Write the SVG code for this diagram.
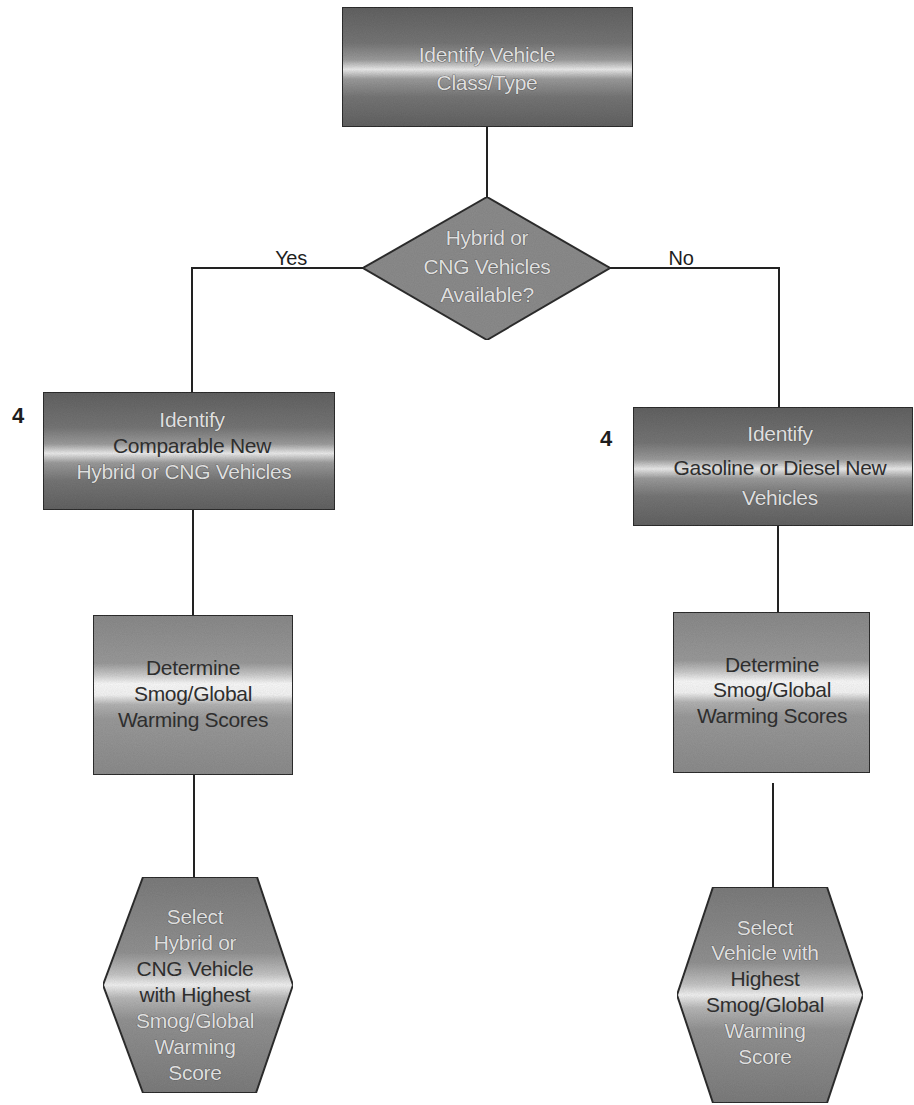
<svg xmlns="http://www.w3.org/2000/svg" width="914" height="1105" viewBox="0 0 914 1105">
<defs>
<linearGradient id="gDark" x1="0" y1="0" x2="0" y2="1">
<stop offset="0" stop-color="#626262"/>
<stop offset="0.3" stop-color="#767676"/>
<stop offset="0.44" stop-color="#9c9c9c"/>
<stop offset="0.52" stop-color="#ececec"/>
<stop offset="0.6" stop-color="#9c9c9c"/>
<stop offset="0.75" stop-color="#767676"/>
<stop offset="1" stop-color="#626262"/>
</linearGradient>
<linearGradient id="gLight" x1="0" y1="0" x2="0" y2="1">
<stop offset="0" stop-color="#8a8a8a"/>
<stop offset="0.3" stop-color="#9a9a9a"/>
<stop offset="0.37" stop-color="#c8c8c8"/>
<stop offset="0.43" stop-color="#fafafa"/>
<stop offset="0.5" stop-color="#f4f4f4"/>
<stop offset="0.56" stop-color="#b4b4b4"/>
<stop offset="0.65" stop-color="#9a9a9a"/>
<stop offset="1" stop-color="#8c8c8c"/>
</linearGradient>
<linearGradient id="gHex" x1="0" y1="0" x2="0" y2="1">
<stop offset="0" stop-color="#7c7c7c"/>
<stop offset="0.35" stop-color="#929292"/>
<stop offset="0.45" stop-color="#c4c4c4"/>
<stop offset="0.5" stop-color="#f2f2f2"/>
<stop offset="0.56" stop-color="#b8b8b8"/>
<stop offset="0.66" stop-color="#939393"/>
<stop offset="1" stop-color="#7c7c7c"/>
</linearGradient>
<filter id="grain" x="0" y="0" width="1" height="1">
<feTurbulence type="fractalNoise" baseFrequency="0.9" numOctaves="2" seed="3" result="n"/>
<feColorMatrix in="n" type="matrix" values="0 0 0 0 0.5  0 0 0 0 0.5  0 0 0 0 0.5  0 0 0 0.35 0" result="g"/>
<feComposite in="g" in2="SourceGraphic" operator="in" result="gi"/>
<feBlend in="SourceGraphic" in2="gi" mode="multiply"/>
</filter>
</defs>
<style>
.box{stroke:#2e2e2e;stroke-width:2}
.conn{stroke:#222;stroke-width:2;fill:none}
text{font-family:"Liberation Sans",Arial,sans-serif;font-size:21px;letter-spacing:-0.3px;text-anchor:middle}
.lt{fill:#dedede;stroke:#4a4a4a;stroke-width:0.7;paint-order:stroke}
.dk{fill:#2e2e2e}
.lbl{fill:#1e1e1e;font-size:20px}
.num{fill:#1e1e1e;font-size:22px;font-weight:bold;text-anchor:start}
</style>
<rect width="914" height="1105" fill="#ffffff"/>

<g id="connectors">
<line class="conn" x1="487" y1="127" x2="487" y2="197"/>
<polyline class="conn" points="363,268 192,268 192,392"/>
<polyline class="conn" points="610,268 779,268 779,407"/>
<line class="conn" x1="193" y1="510" x2="193" y2="615"/>
<line class="conn" x1="778" y1="526" x2="778" y2="612"/>
<line class="conn" x1="194" y1="775" x2="194" y2="877"/>
<line class="conn" x1="773" y1="783" x2="773" y2="887"/>
<text class="lbl" x="291" y="265">Yes</text>
<text class="lbl" x="681" y="265">No</text>
</g>

<g id="n1">
<rect class="box" x="342" y="7" width="291" height="120" fill="url(#gDark)" filter="url(#grain)"/>
<text class="lt" x="487" y="62">Identify Vehicle</text>
<text class="lt" x="487" y="90">Class/Type</text>
</g>

<g id="n2">
<polygon class="box" points="487,197 610,268 487,340 363,268" fill="#8c8c8c" filter="url(#grain)"/>
<text class="lt" x="487" y="245">Hybrid or</text>
<text class="lt" x="487" y="274">CNG Vehicles</text>
<text class="lt" x="487" y="302">Available?</text>
</g>

<g id="n3">
<text class="num" x="12" y="423">4</text>
<rect class="box" x="43" y="392" width="292" height="118" fill="url(#gDark)" filter="url(#grain)"/>
<text class="lt" x="192" y="427">Identify</text>
<text class="dk" x="192" y="453">Comparable New</text>
<text class="lt" x="184" y="479">Hybrid or CNG Vehicles</text>
</g>

<g id="n4">
<text class="num" x="600" y="446">4</text>
<rect class="box" x="633" y="407" width="280" height="119" fill="url(#gDark)" filter="url(#grain)"/>
<text class="lt" x="780" y="441">Identify</text>
<text class="dk" x="780" y="475">Gasoline or Diesel New</text>
<text class="lt" x="780" y="505">Vehicles</text>
</g>

<g id="n5">
<rect class="box" x="93" y="615" width="200" height="160" fill="url(#gLight)" filter="url(#grain)"/>
<text class="dk" x="193" y="675">Determine</text>
<text class="dk" x="193" y="701">Smog/Global</text>
<text class="dk" x="193" y="727">Warming Scores</text>
</g>

<g id="n6">
<rect class="box" x="673" y="612" width="197" height="161" fill="url(#gLight)" filter="url(#grain)"/>
<text class="dk" x="772" y="672">Determine</text>
<text class="dk" x="772" y="697">Smog/Global</text>
<text class="dk" x="772" y="723">Warming Scores</text>
</g>

<g id="n7">
<polygon class="box" points="143,877 257,877 293,985 256,1093 143,1093 103,985" fill="url(#gHex)" filter="url(#grain)"/>
<text class="lt" x="195" y="924">Select</text>
<text class="lt" x="195" y="950">Hybrid or</text>
<text class="dk" x="195" y="976">CNG Vehicle</text>
<text class="dk" x="195" y="1002">with  Highest</text>
<text class="lt" x="195" y="1028">Smog/Global</text>
<text class="lt" x="195" y="1054">Warming</text>
<text class="lt" x="195" y="1080">Score</text>
</g>

<g id="n8">
<polygon class="box" points="713,887 827,887 863,995 827,1103 713,1103 677,995" fill="url(#gHex)" filter="url(#grain)"/>
<text class="lt" x="765" y="935">Select</text>
<text class="lt" x="765" y="960">Vehicle with</text>
<text class="dk" x="765" y="986">Highest</text>
<text class="dk" x="765" y="1012">Smog/Global</text>
<text class="lt" x="765" y="1038">Warming</text>
<text class="lt" x="765" y="1064">Score</text>
</g>
</svg>
